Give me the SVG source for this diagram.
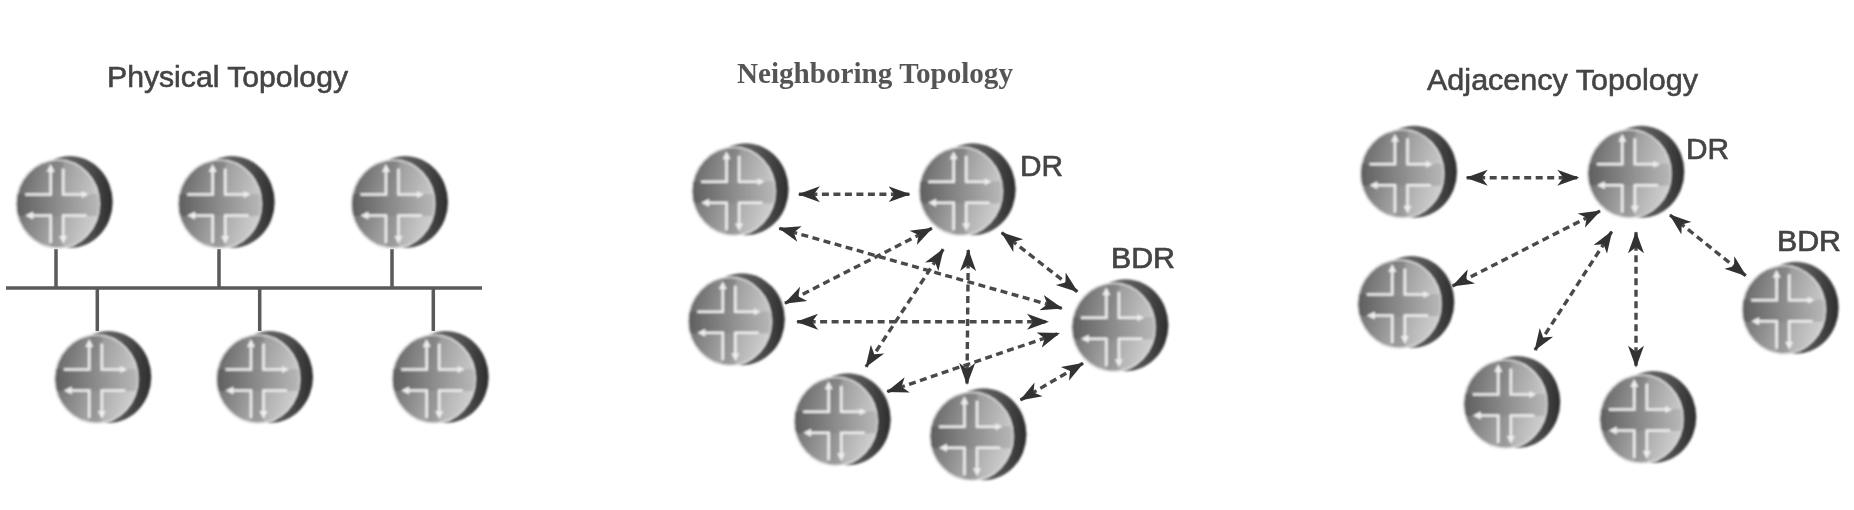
<svg xmlns="http://www.w3.org/2000/svg" xmlns:xlink="http://www.w3.org/1999/xlink" width="1854" height="510" viewBox="0 0 1854 510">
<style>
.t{font-family:"Liberation Sans",Arial,sans-serif;font-size:30px;fill:#444;stroke:#444;stroke-width:.6}
.ts{font-family:"Liberation Serif","Times New Roman",serif;font-size:29px;font-weight:bold;fill:#555}
.l{font-family:"Liberation Sans",Arial,sans-serif;font-size:30px;fill:#444;stroke:#444;stroke-width:.7}
.bus{stroke:#5a5a5a;stroke-width:3.5;fill:none}
.d{stroke:#4a4a4a;stroke-width:3.4;stroke-dasharray:7 4.5;fill:none;marker-start:url(#ah);marker-end:url(#ah)}
.w{stroke:#eee;stroke-width:2.6;fill:none}
.af{fill:#eee}
</style>
<defs>
<filter id="soft" x="-10%" y="-10%" width="120%" height="120%"><feGaussianBlur stdDeviation="1"/></filter>
<filter id="softT" x="-5%" y="-20%" width="110%" height="140%"><feGaussianBlur stdDeviation="0.6"/></filter>
<linearGradient id="back" x1="0" y1="0" x2="1" y2="0"><stop offset="0" stop-color="#888"/><stop offset="0.7" stop-color="#505050"/><stop offset="1" stop-color="#2e2e2e"/></linearGradient>
<linearGradient id="front" x1="0" y1="0.3" x2="1" y2="0.6"><stop offset="0" stop-color="#686868"/><stop offset="0.5" stop-color="#a0a0a0"/><stop offset="1" stop-color="#d0d0d0"/></linearGradient>
<linearGradient id="band" x1="0" y1="0" x2="1" y2="0"><stop offset="0" stop-color="#5e5e5e"/><stop offset="0.5" stop-color="#8c8c8c"/><stop offset="1" stop-color="#b8b8b8"/></linearGradient>
<clipPath id="fc"><ellipse cx="42" cy="48" rx="41" ry="43.5"/></clipPath>
<marker id="ah" markerUnits="userSpaceOnUse" markerWidth="26" markerHeight="20" viewBox="0 0 26 20" refX="21" refY="10" orient="auto-start-reverse"><path d="M0 2 L22 10 L0 18 L6 10 Z" fill="#333"/></marker>
<g id="router">
<ellipse cx="54" cy="46" rx="43" ry="46" fill="url(#back)"/>
<ellipse cx="42" cy="48" rx="41.5" ry="44" fill="url(#front)" stroke="#dcdcdc" stroke-width="1.6"/>
<g clip-path="url(#fc)"><rect x="0" y="38" width="84" height="22" fill="url(#band)"/><path d="M35 4H48V38H35ZM35 60H48V92H35Z" fill="#000" opacity="0.1"/></g>
<path class="w" d="M9.500 38.500H35V14"/><path class="af" d="M35 8l4 8h-8z"/>
<path class="w" d="M47.500 12.500V38.500H68"/><path class="af" d="M73 38.500l-7-3.500v7z"/>
<path class="w" d="M16 59.500H35V87"/><path class="af" d="M9.500 59.500l8-4v8z"/>
<path class="w" d="M71 59.500H47.500V83"/><path class="af" d="M47.500 88l-4-8h8z"/>
</g>
</defs>
<g id="connectors" filter="url(#softT)">
<path class="bus" d="M6 288H482M56 249V288M219 249V288M392 249V288M97.300 288V331M259.700 288V331M433.300 288V331"/>
<line class="d" x1="798.900" y1="194.300" x2="909.500" y2="194.300"/>
<line class="d" x1="779.300" y1="228.300" x2="1061.800" y2="308.300"/>
<line class="d" x1="931.900" y1="228.300" x2="785" y2="303.300"/>
<line class="d" x1="943.200" y1="249.300" x2="866" y2="366.700"/>
<line class="d" x1="968.300" y1="250" x2="967" y2="384"/>
<line class="d" x1="1001.700" y1="232.700" x2="1077.300" y2="291.700"/>
<line class="d" x1="797.100" y1="321.700" x2="1048" y2="321.700"/>
<line class="d" x1="887.300" y1="391.700" x2="1059" y2="333.300"/>
<line class="d" x1="1020.500" y1="400" x2="1083" y2="363.300"/>
<line class="d" x1="1466.700" y1="177.700" x2="1578.300" y2="177.700"/>
<line class="d" x1="1600" y1="211" x2="1452.700" y2="286"/>
<line class="d" x1="1611.700" y1="231.700" x2="1535" y2="350"/>
<line class="d" x1="1636" y1="232.300" x2="1636" y2="366.700"/>
<line class="d" x1="1670" y1="215" x2="1745.700" y2="275.700"/>
</g>
<g id="titles" filter="url(#softT)">
<text class="t" x="107" y="87" textLength="241" lengthAdjust="spacingAndGlyphs">Physical Topology</text>
<text class="ts" x="737" y="83" textLength="276" lengthAdjust="spacingAndGlyphs">Neighboring Topology</text>
<text class="t" x="1427" y="90" textLength="271" lengthAdjust="spacingAndGlyphs">Adjacency Topology</text>
</g>
<g id="p1" filter="url(#soft)"><use href="#router" x="15.700" y="156"/></g>
<g id="p2" filter="url(#soft)"><use href="#router" x="177.700" y="156"/></g>
<g id="p3" filter="url(#soft)"><use href="#router" x="351" y="156"/></g>
<g id="p4" filter="url(#soft)"><use href="#router" x="54.300" y="331"/></g>
<g id="p5" filter="url(#soft)"><use href="#router" x="216" y="331"/></g>
<g id="p6" filter="url(#soft)"><use href="#router" x="391.700" y="331"/></g>
<g id="n1" filter="url(#soft)"><use href="#router" x="691.600" y="143.300"/></g>
<g id="n-dr"><use href="#router" x="918.700" y="143.300" filter="url(#soft)"/><text class="l" x="1020" y="176" textLength="43" lengthAdjust="spacingAndGlyphs" filter="url(#softT)">DR</text></g>
<g id="n3" filter="url(#soft)"><use href="#router" x="687.800" y="273.300"/></g>
<g id="n-bdr"><use href="#router" x="1071.400" y="279.300" filter="url(#soft)"/><text class="l" x="1111" y="268" textLength="64" lengthAdjust="spacingAndGlyphs" filter="url(#softT)">BDR</text></g>
<g id="n5" filter="url(#soft)"><use href="#router" x="793.700" y="373.300"/></g>
<g id="n6" filter="url(#soft)"><use href="#router" x="929.500" y="388.300"/></g>
<g id="a1" filter="url(#soft)"><use href="#router" x="1360" y="125.700"/></g>
<g id="a-dr"><use href="#router" x="1587.300" y="125.700" filter="url(#soft)"/><text class="l" x="1686" y="159" textLength="43" lengthAdjust="spacingAndGlyphs" filter="url(#softT)">DR</text></g>
<g id="a3" filter="url(#soft)"><use href="#router" x="1357.300" y="256"/></g>
<g id="a-bdr"><use href="#router" x="1741.700" y="261.700" filter="url(#soft)"/><text class="l" x="1777" y="251" textLength="64" lengthAdjust="spacingAndGlyphs" filter="url(#softT)">BDR</text></g>
<g id="a5" filter="url(#soft)"><use href="#router" x="1463.300" y="356"/></g>
<g id="a6" filter="url(#soft)"><use href="#router" x="1599.300" y="371"/></g>
</svg>
